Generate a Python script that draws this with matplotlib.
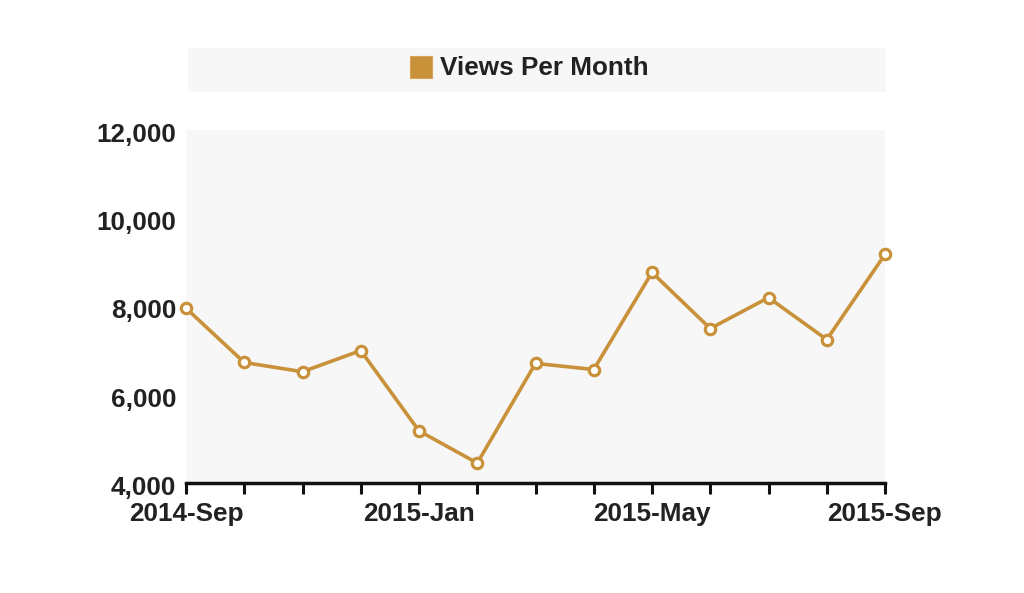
import matplotlib.pyplot as plt
import matplotlib.transforms as mtransforms
from matplotlib.patches import Rectangle
from matplotlib.ticker import FuncFormatter

# ---------------------------------------------------------------
# Data
# ---------------------------------------------------------------
months = ['2014-Sep', '2014-Oct', '2014-Nov', '2014-Dec', '2015-Jan',
          '2015-Feb', '2015-Mar', '2015-Apr', '2015-May', '2015-Jun',
          '2015-Jul', '2015-Aug', '2015-Sep']
views = [7950, 6720, 6510, 6990, 5170, 4440, 6700,
         6560, 8760, 7490, 8190, 7240, 9170]
labelled_months = ['2014-Sep', '2015-Jan', '2015-May', '2015-Sep']
y_ticks = [4000, 6000, 8000, 10000, 12000]
series_name = 'Views Per Month'

line_color = '#c8913a'
text_color = '#222222'
panel_color = '#f7f7f7'

plt.rcParams['font.family'] = ['Liberation Sans', 'DejaVu Sans']
plt.rcParams['font.weight'] = 'bold'

fig = plt.figure(figsize=(10.24, 5.93), dpi=100)
ax = fig.add_axes([186 / 1024, 1 - 482.5 / 593, 699 / 1024, 353 / 593])
ax.set_facecolor(panel_color)

x = list(range(len(months)))
ax.plot(x, views, color=line_color, linewidth=2.6, marker='o',
        markersize=7.5, markerfacecolor='white', markeredgecolor=line_color,
        markeredgewidth=2.3, clip_on=False, zorder=3)

ax.set_xlim(0, len(months) - 1)
ax.set_ylim(y_ticks[0], y_ticks[-1])

# Axis styling
for side in ['top', 'right', 'left']:
    ax.spines[side].set_visible(False)
ax.spines['bottom'].set_linewidth(2.5)
ax.spines['bottom'].set_color('#111111')

ax.set_xticks(x)
ax.set_xticklabels([m if m in labelled_months else '' for m in months])
ax.tick_params(axis='x', length=8, width=2.2, color='#111111',
               labelsize=18.8, labelcolor=text_color, pad=6)

ax.set_yticks(y_ticks)
ax.yaxis.set_major_formatter(FuncFormatter(lambda v, p: f'{int(v):,}'))
ax.tick_params(axis='y', length=0, labelsize=18.8, labelcolor=text_color, pad=7)

# y labels sit a little below their gridline value in the reference
shift = mtransforms.ScaledTranslation(0, -3 / 100, fig.dpi_scale_trans)
for lbl in ax.get_yticklabels():
    lbl.set_transform(lbl.get_transform() + shift)

# Legend band across the top
fig.patches.append(Rectangle((188 / 1024, 1 - 92 / 593), 698 / 1024, 44 / 593,
                             transform=fig.transFigure, facecolor=panel_color,
                             edgecolor='none', zorder=0))
fig.patches.append(Rectangle((410 / 1024, 1 - 78 / 593), 22 / 1024, 22 / 593,
                             transform=fig.transFigure, facecolor=line_color,
                             edgecolor='#d4a55a', linewidth=0.8, zorder=1))
fig.text(440 / 1024, 1 - 68 / 593, series_name, fontsize=18.8, fontweight='bold',
         color=text_color, va='center', ha='left')

fig.savefig('out.png', dpi=100, facecolor='white')
